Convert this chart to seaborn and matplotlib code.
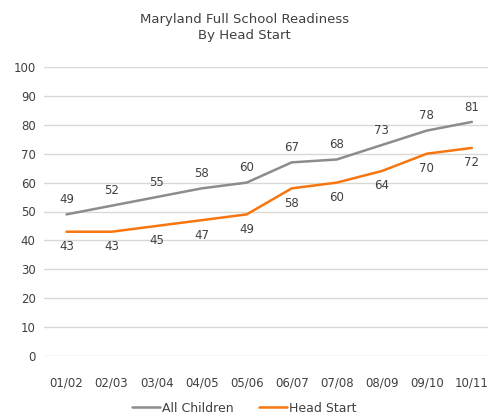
import numpy as np
import pandas as pd
import matplotlib.pyplot as plt
import seaborn as sns

years = ["01/02", "02/03", "03/04", "04/05", "05/06",
         "06/07", "07/08", "08/09", "09/10", "10/11"]
all_children = [49, 52, 55, 58, 60, 67, 68, 73, 78, 81]
head_start = [43, 43, 45, 47, 49, 58, 60, 64, 70, 72]

series_names = ["All Children", "Head Start"]
colors = {"All Children": "#8c8c8c", "Head Start": "#f7760f"}

df = pd.DataFrame({
    "year": years * 2,
    "idx": list(range(len(years))) * 2,
    "value": all_children + head_start,
    "series": ["All Children"] * len(years) + ["Head Start"] * len(years),
})

sns.set_style("white")
plt.rcParams["font.family"] = ["DejaVu Sans"]
TXT = "#404040"

fig = plt.figure(figsize=(4.89, 4.17), dpi=100)
ax = fig.add_axes([44 / 489, 1 - 356 / 417, 445 / 489, (356 - 67) / 417])

sns.lineplot(data=df, x="idx", y="value", hue="series", palette=colors,
             linewidth=1.8, ax=ax, legend=False)

# data labels: above for all children, below for head start
for i in range(len(years)):
    ax.annotate(str(all_children[i]), (i, all_children[i]), xytext=(0, 6),
                textcoords="offset points", ha="center", va="bottom",
                fontsize=8.5, color=TXT)
    ax.annotate(str(head_start[i]), (i, head_start[i]), xytext=(0, -6),
                textcoords="offset points", ha="center", va="top",
                fontsize=8.5, color=TXT)

ax.set_ylim(0, 100)
ax.set_yticks(range(0, 101, 10))
ax.set_xlim(-0.5, 9.38)
ax.set_xticks(range(len(years)))
ax.set_xticklabels(years)
ax.tick_params(axis="both", length=0, labelsize=8.5, colors=TXT)
ax.tick_params(axis="x", pad=15)
ax.tick_params(axis="y", pad=6)
ax.yaxis.grid(True, color="#d9d9d4", linewidth=1)
ax.xaxis.grid(False)
for s in ax.spines.values():
    s.set_visible(False)
ax.set_xlabel("")
ax.set_ylabel("")

fig.text(0.5, 1 - 27 / 417, "Maryland Full School Readiness\nBy Head Start",
         ha="center", va="center", fontsize=9.5, color=TXT, linespacing=1.3)

handles = [plt.Line2D([], [], color=colors[n], linewidth=1.8) for n in series_names]
fig.legend(handles, series_names, loc="center", bbox_to_anchor=(0.5, 1 - 408 / 417),
           ncol=2, frameon=False, fontsize=9, handlelength=2.2, handletextpad=0.2,
           columnspacing=2.0, labelcolor=TXT)

plt.savefig("out.png", dpi=100)
